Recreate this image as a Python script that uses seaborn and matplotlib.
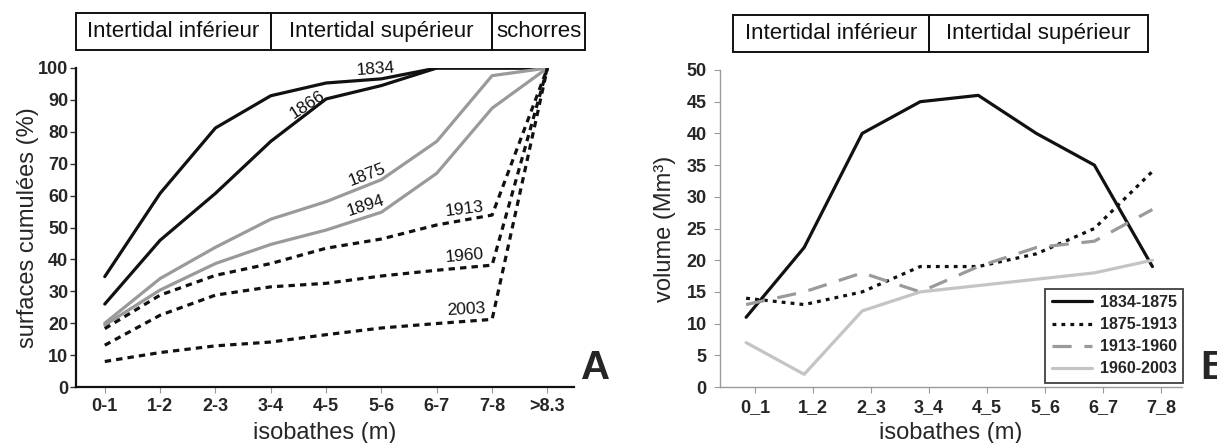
import numpy as np
import pandas as pd
import matplotlib
matplotlib.use("Agg")
import matplotlib.pyplot as plt
import seaborn as sns
from matplotlib.patches import Rectangle
from matplotlib.transforms import blended_transform_factory
from matplotlib.lines import Line2D

# ---------------- data ----------------
cats_a = ["0-1", "1-2", "2-3", "3-4", "4-5", "5-6", "6-7", "7-8", ">8.3"]
y1834 = [34.6, 60.7, 81.2, 91.3, 95.3, 96.6, 100, 100, 100]
y1866 = [26.0, 46.0, 60.7, 77.0, 90.3, 94.5, 100, 100, 100]
y1875 = [20.0, 34.0, 43.8, 52.6, 58.1, 65.0, 77.0, 97.6, 100]
y1894 = [19.4, 30.4, 38.7, 44.7, 49.2, 54.8, 67.0, 87.4, 100]
y1913 = [18.3, 28.8, 35.0, 38.7, 43.5, 46.4, 50.8, 53.9, 100]
y1960 = [13.1, 22.5, 28.8, 31.4, 32.5, 34.8, 36.6, 38.2, 100]
y2003 = [8.0, 10.8, 12.9, 14.1, 16.4, 18.5, 19.9, 21.2, 100]

cats_b = ["0_1", "1_2", "2_3", "3_4", "4_5", "5_6", "6_7", "7_8"]
v1834_1875 = [11, 22, 40, 45, 46, 40, 35, 19]
v1875_1913 = [14, 13, 15, 19, 19, 21, 25, 34]
v1913_1960 = [13, 15, 18, 15, 19, 22, 23, 28]
v1960_2003 = [7, 2, 12, 15, 16, 17, 18, 20]

header_a = ["Intertidal inférieur", "Intertidal supérieur", "schorres"]
header_b = ["Intertidal inférieur", "Intertidal supérieur"]

# ---------------- style ----------------
sns.set_style("white")
plt.rcParams["font.family"] = ["Liberation Sans", "DejaVu Sans"]

W, H = 1217, 443
fig = plt.figure(figsize=(W / 100, H / 100), dpi=100)
ax1 = fig.add_axes([76 / W, 1 - 387 / H, 498 / W, 319 / H])
ax2 = fig.add_axes([720 / W, 1 - 387 / H, 462 / W, 317 / H])

BLACK = "#111111"
GRAY = "#9a9a9a"
LGRAY = "#c4c4c4"
LW = 2.3

# ---------------- chart A ----------------
xa = np.arange(len(cats_a))
series_a = [
    ("1834", y1834, BLACK, "-"),
    ("1866", y1866, BLACK, "-"),
    ("1875", y1875, GRAY, "-"),
    ("1894", y1894, GRAY, "-"),
    ("1913", y1913, BLACK, (0, (2.0, 1.6))),
    ("1960", y1960, BLACK, (0, (2.0, 1.6))),
    ("2003", y2003, BLACK, (0, (2.0, 1.6))),
]
for name, vals, col, ls in series_a:
    df = pd.DataFrame({"x": xa, "y": vals})
    sns.lineplot(data=df, x="x", y="y", ax=ax1, color=col, linewidth=LW,
                 linestyle=ls, legend=False)

# year labels on lines
year_labels = [
    ("1834", 4.9, 99.6, 4),
    ("1866", 3.67, 88.5, 33),
    ("1875", 4.74, 66.5, 21),
    ("1894", 4.71, 56.8, 18),
    ("1913", 6.5, 55.8, 7),
    ("1960", 6.5, 41.0, 5),
    ("2003", 6.53, 24.3, 3),
]
for t, x, y, r in year_labels:
    ax1.text(x, y, t, fontsize=12.5, rotation=r, ha="center", va="center",
             color="#111111")

ax1.set_xlim(-0.52, 8.48)
ax1.set_ylim(0, 100)
ax1.set_xticks(xa)
ax1.set_xticklabels(cats_a)
ax1.set_yticks(range(0, 101, 10))
for s in ["top", "right"]:
    ax1.spines[s].set_visible(False)
for s in ["left", "bottom"]:
    ax1.spines[s].set_color("#111111")
    ax1.spines[s].set_linewidth(1.6)
ax1.tick_params(axis="y", which="major", left=True, length=4.5, width=1.0,
                color="#333333", labelsize=13, pad=1)
ax1.tick_params(axis="x", which="major", bottom=True, length=4, width=0.8,
                color="#999999", labelsize=13, pad=4)
for lab in ax1.get_xticklabels() + ax1.get_yticklabels():
    lab.set_fontweight("bold")
ax1.set_xlabel("isobathes (m)", fontsize=17)
ax1.set_ylabel("surfaces cumulées (%)", fontsize=17)
ax1.xaxis.set_label_coords(0.5, -0.11)
ax1.yaxis.set_label_coords(-0.075, 0.5)
ax1.text(1.015, 0.0, "A", transform=ax1.transAxes, fontsize=29,
         fontweight="bold", ha="left", va="bottom")


def header(ax, edges, labels, y0, y1, fs):
    tr = blended_transform_factory(ax.transData, ax.transAxes)
    for i, lab in enumerate(labels):
        x0, x1 = edges[i], edges[i + 1]
        ax.add_patch(Rectangle((x0, y0), x1 - x0, y1 - y0, transform=tr,
                               fill=False, ec="#111111", lw=1.4,
                               clip_on=False))
        ax.text((x0 + x1) / 2, (y0 + y1) / 2, lab, transform=tr,
                ha="center", va="center", fontsize=fs, clip_on=False,
                color="#111111")


header(ax1, [-0.52, 3.0, 7.0, 8.68], header_a, 1.056, 1.172, 16)

# ---------------- chart B ----------------
xb = np.arange(len(cats_b)) - 0.15
series_b = [
    ("1834-1875", v1834_1875, BLACK, "-"),
    ("1875-1913", v1875_1913, BLACK, (0, (1.2, 1.6))),
    ("1913-1960", v1913_1960, GRAY, (0, (6.0, 4.0))),
    ("1960-2003", v1960_2003, LGRAY, "-"),
]
handles = []
for name, vals, col, ls in series_b:
    df = pd.DataFrame({"x": xb, "y": vals})
    sns.lineplot(data=df, x="x", y="y", ax=ax2, color=col, linewidth=LW,
                 linestyle=ls, legend=False)
    handles.append(Line2D([], [], color=col, lw=LW, linestyle=ls, label=name))

ax2.set_xlim(-0.6, 7.36)
ax2.set_ylim(0, 50)
ax2.set_xticks(np.arange(len(cats_b)))
ax2.set_xticklabels(cats_b)
ax2.set_yticks(range(0, 51, 5))
for s in ["top", "right"]:
    ax2.spines[s].set_visible(False)
for s in ["left", "bottom"]:
    ax2.spines[s].set_color("#9a9a9a")
    ax2.spines[s].set_linewidth(1.0)
ax2.tick_params(axis="both", which="major", left=True, bottom=True,
                length=4.5, width=0.8, color="#9a9a9a", labelsize=13)
ax2.tick_params(axis="y", pad=5)
ax2.tick_params(axis="x", pad=4)
for lab in ax2.get_xticklabels() + ax2.get_yticklabels():
    lab.set_fontweight("bold")
ax2.set_xlabel("isobathes (m)", fontsize=17)
ax2.set_ylabel("volume (Mm³)", fontsize=17)
ax2.xaxis.set_label_coords(0.5, -0.11)
ax2.yaxis.set_label_coords(-0.095, 0.5)
ax2.text(1.04, 0.0, "B", transform=ax2.transAxes, fontsize=29,
         fontweight="bold", ha="left", va="bottom")

leg = ax2.legend(handles=handles, loc="lower right",
                 bbox_to_anchor=(1.002, 0.013), frameon=True, fancybox=False,
                 prop={"weight": "bold", "size": 11.5}, handlelength=2.5,
                 handletextpad=0.5, borderpad=0.4, labelspacing=0.45,
                 borderaxespad=0)
leg.get_frame().set_edgecolor("#111111")
leg.get_frame().set_linewidth(1.3)

header(ax2, [-0.38, 3.0, 6.78], header_b, 1.057, 1.174, 16)

fig.savefig("out.png", dpi=100)
